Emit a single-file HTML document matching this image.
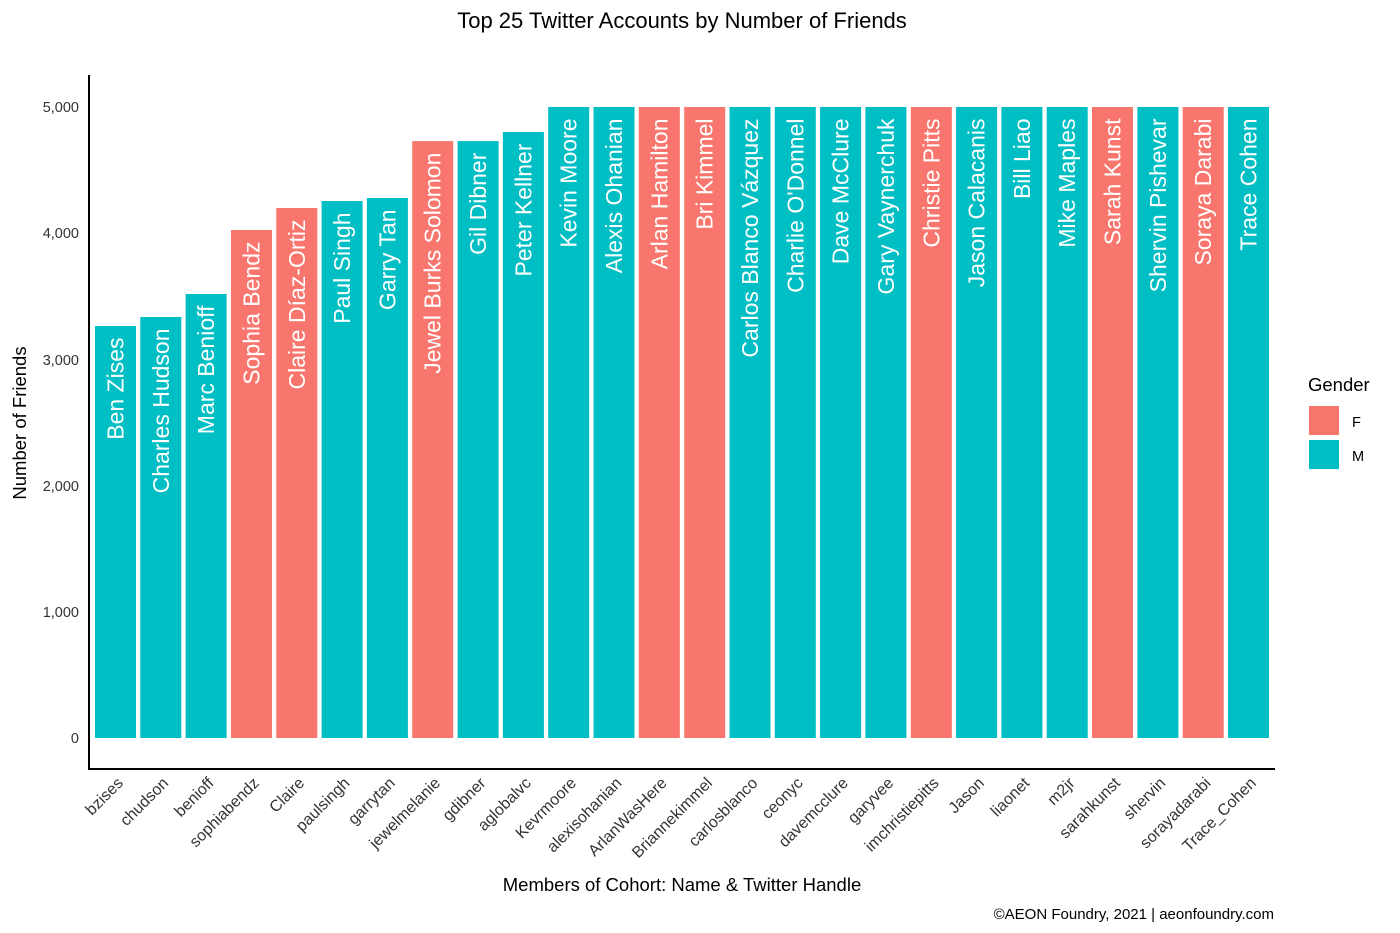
<!DOCTYPE html>
<html><head><meta charset="utf-8"><style>body{margin:0;background:#fff}svg{display:block;font-family:"Liberation Sans",Arial,sans-serif}</style></head><body>
<svg width="1400" height="933" xmlns="http://www.w3.org/2000/svg">
<text x="682" y="28" font-size="22" text-anchor="middle" fill="#000">Top 25 Twitter Accounts by Number of Friends</text>
<g font-size="14.5" fill="#333" text-anchor="end">
<text x="79" y="743">0</text><text x="79" y="617">1,000</text><text x="79" y="491">2,000</text><text x="79" y="365">3,000</text><text x="79" y="238">4,000</text><text x="79" y="112">5,000</text>
</g>
<text transform="translate(26,423) rotate(-90)" font-size="18.5" text-anchor="middle">Number of Friends</text>
<g id="bars"></g>
<line x1="89" y1="75" x2="89" y2="769.5" stroke="#000" stroke-width="2"/>
<line x1="88" y1="769" x2="1275" y2="769" stroke="#000" stroke-width="2"/>
<text x="682" y="891" font-size="18.5" text-anchor="middle">Members of Cohort: Name &amp; Twitter Handle</text>
<text x="1274" y="919" font-size="15" text-anchor="end">©AEON Foundry, 2021 | aeonfoundry.com</text>
<text x="1308" y="391" font-size="18.5">Gender</text>
<rect x="1309" y="406" width="30" height="29" fill="#F8766D"/>
<rect x="1309" y="440" width="30" height="29" fill="#00BFC4"/>
<text x="1352" y="427" font-size="14.5">F</text>
<text x="1352" y="461" font-size="14.5">M</text>
</svg>
<script>
var d=[["Ben Zises","bzises",3265,"M"],["Charles Hudson","chudson",3336,"M"],["Marc Benioff","benioff",3518,"M"],["Sophia Bendz","sophiabendz",4025,"F"],["Claire Díaz-Ortiz","Claire",4200,"F"],["Paul Singh","paulsingh",4255,"M"],["Garry Tan","garrytan",4279,"M"],["Jewel Burks Solomon","jewelmelanie",4730,"F"],["Gil Dibner","gdibner",4730,"M"],["Peter Kellner","aglobalvc",4802,"M"],["Kevin Moore","Kevrmoore",5000,"M"],["Alexis Ohanian","alexisohanian",5000,"M"],["Arlan Hamilton","ArlanWasHere",5000,"F"],["Bri Kimmel","Briannekimmel",5000,"F"],["Carlos Blanco Vázquez","carlosblanco",5000,"M"],["Charlie O'Donnel","ceonyc",5000,"M"],["Dave McClure","davemcclure",5000,"M"],["Gary Vaynerchuk","garyvee",5000,"M"],["Christie Pitts","imchristiepitts",5000,"F"],["Jason Calacanis","Jason",5000,"M"],["Bill Liao","liaonet",5000,"M"],["Mike Maples","m2jr",5000,"M"],["Sarah Kunst","sarahkunst",5000,"F"],["Shervin Pishevar","shervin",5000,"M"],["Soraya Darabi","sorayadarabi",5000,"F"],["Trace Cohen","Trace_Cohen",5000,"M"]];
var s="",z=738,k=0.1262;
d.forEach(function(r,i){var x=95+i*45.32,t=z-r[2]*k,c=x+20.5;
s+='<rect x="'+x.toFixed(1)+'" y="'+t.toFixed(1)+'" width="41" height="'+(z-t).toFixed(1)+'" fill="'+(r[3]=="F"?"#F8766D":"#00BFC4")+'"/>';
s+='<text transform="translate('+(c+8).toFixed(1)+','+(t+11.5).toFixed(1)+') rotate(-90)" font-size="23" fill="#fff" text-anchor="end">'+r[0]+'</text>';
s+='<text transform="translate('+(c+8.5).toFixed(1)+',784) rotate(-45)" font-size="16" fill="#333" text-anchor="end">'+r[1]+'</text>';});
document.getElementById("bars").innerHTML=s;
</script>
</body></html>
